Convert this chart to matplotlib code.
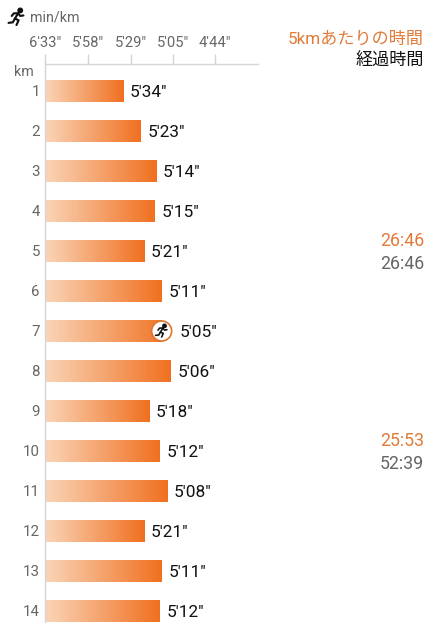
import matplotlib
matplotlib.use('Agg')
import matplotlib.pyplot as plt
from matplotlib.patches import Circle, Rectangle
import numpy as np

plt.rcParams['font.family'] = ['Roboto', 'Noto Sans CJK JP', 'DejaVu Sans']

W, H = 435, 640

# Data
km = [str(i) for i in range(1, 15)]
pace_labels = ["5'34\"", "5'23\"", "5'14\"", "5'15\"", "5'21\"", "5'11\"", "5'05\"",
               "5'06\"", "5'18\"", "5'12\"", "5'08\"", "5'21\"", "5'11\"", "5'12\""]
pace_seconds = [334, 323, 314, 315, 321, 311, 305, 306, 318, 312, 308, 321, 311, 312]
tick_labels = ["6'33\"", "5'58\"", "5'29\"", "5'05\"", "4'44\""]
tick_seconds = [393, 358, 329, 305, 284]
current_km = 7
split_labels = ['26:46', '25:53']
total_labels = ['26:46', '52:39']

ORANGE = '#E07B39'
GREY = '#666666'
AXIS_GREY = '#D5D5D5'


def to_speed(seconds):
    return 3600 / np.array(seconds, dtype=float)


def draw_runner(ax, x0, y0, size, color):
    # small running figure, coords on a 16x16 grid
    k = size / 16
    parts = [
        [(9.5, 5), (6.5, 10)],
        [(9.5, 5), (11.5, 7.5), (14.5, 7)],
        [(9.5, 5), (5.5, 5), (3.5, 7.5)],
        [(6.5, 10), (10, 11.5), (8, 16)],
        [(6.5, 10), (4.5, 13.5), (0.5, 14)],
    ]
    for p in parts:
        xs = [x0 + a * k for a, b in p]
        ys = [y0 + b * k for a, b in p]
        ax.plot(xs, ys, color=color, lw=size * 0.09, solid_capstyle='round',
                solid_joinstyle='round', zorder=6)
    ax.add_patch(Circle((x0 + 11.5 * k, y0 + 2.3 * k), 2.1 * k, color=color, zorder=6))


fig = plt.figure(figsize=(W / 100, H / 100), dpi=100)
ax = fig.add_axes([45 / W, 1 - 622 / H, 213 / W, (622 - 64) / H])

speeds = to_speed(pace_seconds)
x_left = to_speed(tick_seconds)[0]
positions = np.arange(1, 15)
gradient = np.linspace(0, 1, 256).reshape(1, -1)
cmap = matplotlib.colors.LinearSegmentedColormap.from_list('pace', ['#FAD5B8', '#F07020'])

bars = ax.barh(positions, speeds - x_left, left=x_left, height=0.55, color='none')
for bar in bars:
    img = ax.imshow(gradient, cmap=cmap, aspect='auto', zorder=2,
                    extent=(bar.get_x(), bar.get_x() + bar.get_width(),
                            bar.get_y() + bar.get_height(), bar.get_y()))
    img.set_clip_path(bar)

for pos, speed, label in zip(positions, speeds, pace_labels):
    ax.annotate(label, (speed, pos), xytext=(4.8, -1.2), textcoords='offset points',
                va='center', ha='left', fontsize=12.4, color='#111111', annotation_clip=False)

ax.set_xlim(x_left, x_left + 213 / 48.3)
ax.set_ylim(1 + 531 / 40, 1 - 27 / 40)

ax.xaxis.tick_top()
ax.set_xticks(to_speed(tick_seconds))
ax.set_xticklabels(tick_labels, fontsize=10.6, color=GREY)
ax.tick_params(axis='x', length=7, width=1, color=AXIS_GREY, pad=3)
ax.set_yticks(positions)
ax.set_yticklabels(km, fontsize=10.8, color=GREY)
ax.tick_params(axis='y', length=0, pad=3.6)
for side in ['right', 'bottom']:
    ax.spines[side].set_visible(False)
for side in ['top', 'left']:
    ax.spines[side].set_color(AXIS_GREY)
    ax.spines[side].set_linewidth(1)

# overlay in pixel coordinates for header, side texts and icons
over = fig.add_axes([0, 0, 1, 1], facecolor='none')
over.set_xlim(0, W)
over.set_ylim(H, 0)
over.axis('off')

over.text(30, 17.5, 'min/km', fontsize=10.3, color=GREY, va='center', ha='left')
over.text(24, 71.5, 'km', fontsize=10.3, color=GREY, va='center', ha='center')
draw_runner(over, 8, 8, 17, '#111111')

over.text(424, 39, '5kmあたりの時間', fontsize=12.3, color=ORANGE, va='center', ha='right')
over.text(424, 61, '経過時間', fontsize=12.3, color='#111111', va='center', ha='right')
for y, split, total in zip([241, 441], split_labels, total_labels):
    over.text(424, y, split, fontsize=12.8, color=ORANGE, va='center', ha='right')
    over.text(424, y + 23, total, fontsize=12.8, color=GREY, va='center', ha='right')

# current position marker, the bar stops under the middle of it
bar_end = 45 + (speeds[current_km - 1] - x_left) * 48.3
marker_x = bar_end - 11
marker_y = 91 + (current_km - 1) * 40
over.add_patch(Rectangle((marker_x, marker_y - 12), bar_end - marker_x + 1, 24,
                         facecolor='white', edgecolor='none', zorder=4))
over.add_patch(Circle((marker_x, marker_y), 10, facecolor='white', edgecolor='#E0752A', lw=1.2, zorder=5))
draw_runner(over, marker_x - 6.5, marker_y - 7, 13, '#111111')

fig.savefig('out.png', dpi=100)
plt.close()
